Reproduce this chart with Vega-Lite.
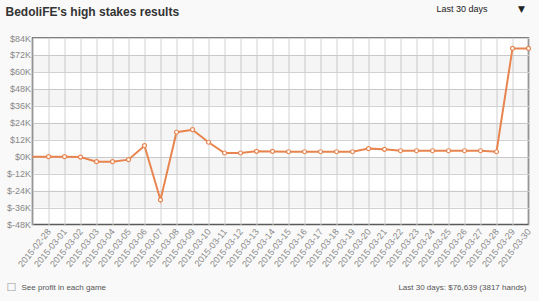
{
  "$schema": "https://vega.github.io/schema/vega-lite/v6.json",
  "width": 496,
  "height": 186.5,
  "autosize": {"type": "none"},
  "padding": {"left": 32.5, "top": 38, "right": 10.5, "bottom": 76.5},
  "background": "#f9f9f9",
  "config": {
    "view": {"stroke": "#5a5a5a", "strokeWidth": 1.5, "fill": "white"},
    "font": "Liberation Sans"
  },
  "data": {
    "values": [
      {"date": "2015-02-27", "profit": 0},
      {"date": "2015-02-28", "profit": 0},
      {"date": "2015-03-01", "profit": 0},
      {"date": "2015-03-02", "profit": -300},
      {"date": "2015-03-03", "profit": -3500},
      {"date": "2015-03-04", "profit": -3500},
      {"date": "2015-03-05", "profit": -2100},
      {"date": "2015-03-06", "profit": 7800},
      {"date": "2015-03-07", "profit": -30600},
      {"date": "2015-03-08", "profit": 17300},
      {"date": "2015-03-09", "profit": 19100},
      {"date": "2015-03-10", "profit": 10200},
      {"date": "2015-03-11", "profit": 2600},
      {"date": "2015-03-12", "profit": 2600},
      {"date": "2015-03-13", "profit": 3800},
      {"date": "2015-03-14", "profit": 3700},
      {"date": "2015-03-15", "profit": 3500},
      {"date": "2015-03-16", "profit": 3500},
      {"date": "2015-03-17", "profit": 3500},
      {"date": "2015-03-18", "profit": 3500},
      {"date": "2015-03-19", "profit": 3500},
      {"date": "2015-03-20", "profit": 5700},
      {"date": "2015-03-21", "profit": 5200},
      {"date": "2015-03-22", "profit": 4200},
      {"date": "2015-03-23", "profit": 4200},
      {"date": "2015-03-24", "profit": 4200},
      {"date": "2015-03-25", "profit": 4200},
      {"date": "2015-03-26", "profit": 4200},
      {"date": "2015-03-27", "profit": 4200},
      {"date": "2015-03-28", "profit": 3500},
      {"date": "2015-03-29", "profit": 76600},
      {"date": "2015-03-30", "profit": 76639}
    ]
  },
  "resolve": {"axis": {"x": "independent"}},
  "layer": [
    {
      "data": {
        "values": [
          {"lo": 60000, "hi": 72000},
          {"lo": 36000, "hi": 48000},
          {"lo": 12000, "hi": 24000},
          {"lo": -12000, "hi": 0},
          {"lo": -36000, "hi": -24000}
        ]
      },
      "mark": {"type": "rect", "fill": "#000", "fillOpacity": 0.04},
      "encoding": {
        "y": {
          "field": "lo", "type": "quantitative",
          "scale": {"domain": [-48000, 84000], "nice": false, "zero": false},
          "axis": {
            "values": [-48000, -36000, -24000, -12000, 0, 12000, 24000, 36000, 48000, 60000, 72000, 84000],
            "labelExpr": "'$' + (datum.value / 1000) + 'K'",
            "title": null, "ticks": false, "domain": false,
            "grid": true, "gridColor": "#d2d2d2", "gridWidth": 1,
            "labelPadding": 2, "labelFontSize": 9, "labelColor": "#888"
          }
        },
        "y2": {"field": "hi"}
      }
    },
    {
      "mark": {"type": "line", "color": "#e8844f", "strokeWidth": 2},
      "encoding": {
        "x": {
          "field": "date", "type": "ordinal",
          "scale": {"type": "point", "padding": 0},
          "axis": {
            "orient": "bottom",
            "labelAngle": -51, "labelAlign": "right", "labelBaseline": "middle",
            "labelPadding": 5, "labelFontSize": 9, "labelColor": "#888",
            "labelOverlap": false,
            "labelExpr": "datum.label == '2015-02-27' ? '' : datum.label",
            "ticks": false, "domain": false,
            "grid": true, "gridColor": "#d2d2d2", "gridWidth": 1,
            "title": "Last 30 days: $76,639 (3817 hands)",
            "titleX": 493.5, "titleY": 62.5, "titleAlign": "right", "titleBaseline": "middle",
            "titleFontSize": 8, "titleFontWeight": "normal", "titleColor": "#555"
          }
        },
        "y": {
          "field": "profit", "type": "quantitative",
          "scale": {"domain": [-48000, 84000], "nice": false, "zero": false},
          "axis": {
            "values": [-48000, -36000, -24000, -12000, 0, 12000, 24000, 36000, 48000, 60000, 72000, 84000],
            "labelExpr": "'$' + (datum.value / 1000) + 'K'",
            "title": null, "ticks": false, "domain": false,
            "grid": true, "gridColor": "#d2d2d2", "gridWidth": 1,
            "labelPadding": 2, "labelFontSize": 9, "labelColor": "#888"
          }
        }
      }
    },
    {
      "transform": [{"filter": "datum.date != '2015-02-27'"}],
      "mark": {"type": "point", "filled": true, "fill": "white", "stroke": "#e8844f", "strokeWidth": 1.2, "size": 16, "opacity": 1},
      "encoding": {
        "x": {
          "field": "date", "type": "ordinal",
          "axis": {
            "orient": "top", "labels": false, "ticks": false, "domain": false, "grid": false,
            "title": "BedoliFE's high stakes results",
            "titleX": -27.5, "titleY": -27, "titleAlign": "left", "titleBaseline": "middle",
            "titleFontSize": 12, "titleFontWeight": "bold", "titleColor": "#333"
          }
        },
        "y": {
          "field": "profit", "type": "quantitative",
          "axis": {
            "values": [-48000, -36000, -24000, -12000, 0, 12000, 24000, 36000, 48000, 60000, 72000, 84000],
            "labelExpr": "'$' + (datum.value / 1000) + 'K'",
            "title": null, "ticks": false, "domain": false,
            "grid": true, "gridColor": "#d2d2d2", "gridWidth": 1,
            "labelPadding": 2, "labelFontSize": 9, "labelColor": "#888"
          }
        }
      }
    },
    {
      "mark": {"type": "point", "opacity": 0},
      "encoding": {
        "x": {
          "field": "date", "type": "ordinal",
          "axis": {
            "orient": "top", "labels": false, "ticks": false, "domain": false, "grid": false,
            "title": "Last 30 days",
            "titleX": 403.5, "titleY": -30, "titleAlign": "left", "titleBaseline": "middle",
            "titleFontSize": 9, "titleFontWeight": "normal", "titleColor": "#222"
          }
        }
      }
    },
    {
      "mark": {"type": "point", "opacity": 0},
      "encoding": {
        "x": {
          "field": "date", "type": "ordinal",
          "axis": {
            "orient": "top", "labels": false, "ticks": false, "domain": false, "grid": false,
            "title": "▼",
            "titleX": 488.5, "titleY": -30, "titleAlign": "center", "titleBaseline": "middle",
            "titleFontSize": 9, "titleFontWeight": "normal", "titleColor": "#222", "titleFont": "DejaVu Sans"
          }
        }
      }
    },
    {
      "mark": {"type": "point", "opacity": 0},
      "encoding": {
        "x": {
          "field": "date", "type": "ordinal",
          "axis": {
            "orient": "bottom", "labels": false, "ticks": false, "domain": false, "grid": false,
            "title": "See profit in each game",
            "titleX": -11.5, "titleY": 62.5, "titleAlign": "left", "titleBaseline": "middle",
            "titleFontSize": 8, "titleFontWeight": "normal", "titleColor": "#555"
          }
        }
      }
    },
    {
      "mark": {"type": "point", "opacity": 0},
      "encoding": {
        "x": {
          "field": "date", "type": "ordinal",
          "axis": {
            "orient": "bottom", "labels": false, "ticks": false, "domain": false, "grid": false,
            "title": "☐",
            "titleX": -21.5, "titleY": 62.5, "titleAlign": "center", "titleBaseline": "middle",
            "titleFontSize": 11, "titleFontWeight": "normal", "titleColor": "#999", "titleFont": "DejaVu Sans"
          }
        }
      }
    }
  ]
}
